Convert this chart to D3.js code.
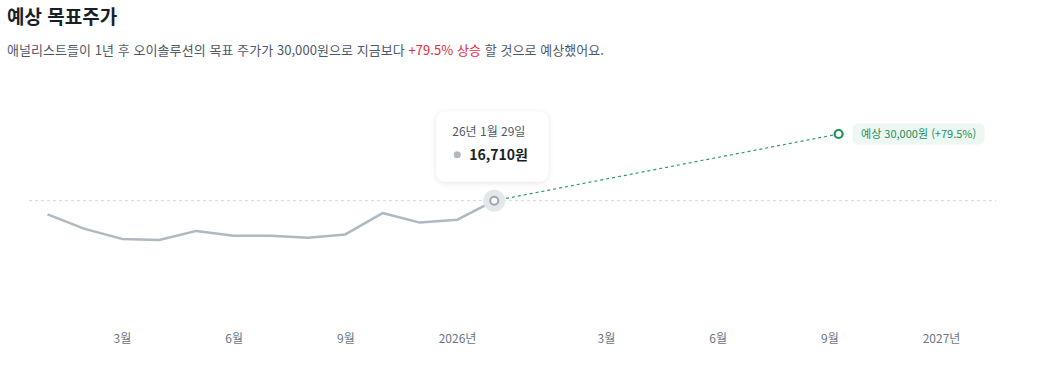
<!DOCTYPE html>
<html lang="ko">
<head>
<meta charset="utf-8">
<script src="https://cdn.jsdelivr.net/npm/d3@7"></script>
<style>
  html, body { margin: 0; padding: 0; background: #fff; }
  body { font-family: "Noto Sans CJK KR", "Noto Sans", sans-serif; }
  svg text { font-family: "Noto Sans CJK KR", "Noto Sans", sans-serif; }
</style>
</head>
<body>
<svg id="chart" width="1037" height="378"></svg>
<script>
// monthly closes, 25년 1월 29일 .. 26년 1월 29일 (slot = month index from Jan 2025)
const dates = ['25년 1월 29일', '25년 2월 28일', '25년 3월 28일', '25년 4월 29일', '25년 5월 29일',
  '25년 6월 27일', '25년 7월 29일', '25년 8월 29일', '25년 9월 29일', '25년 10월 29일',
  '25년 11월 28일', '25년 12월 29일', '26년 1월 29일'];
const slots = [0, 1, 2, 3, 4, 5, 6, 7, 8, 9, 10, 11, 12];
const prices = [14000, 11100, 9100, 8900, 10700, 9750, 9750, 9350, 10000, 14250, 12350, 12900, 16710];

const targetSlot = 21.25;
const targetPrice = 30000;
const upside = '+79.5%';

const tickSlots = [2, 5, 8, 11, 15, 18, 21, 24];
const tickLabels = ['3월', '6월', '9월', '2026년', '3월', '6월', '9월', '2027년'];

const svg = d3.select('#chart');

// heading
svg.append('text')
  .attr('x', 7).attr('y', 24)
  .attr('font-size', 19).attr('font-weight', 700)
  .attr('fill', '#191f28')
  .text('예상 목표주가');

const sub = svg.append('text')
  .attr('x', 7).attr('y', 55)
  .attr('font-size', 13)
  .attr('letter-spacing', 0.06)
  .attr('fill', '#4e5968');
sub.append('tspan').text('애널리스트들이 1년 후 오이솔루션의 목표 주가가 30,000원으로 지금보다 ');
sub.append('tspan').attr('fill', '#e42939').text(upside + ' 상승');
sub.append('tspan').text(' 할 것으로 예상했어요.');

const x = d3.scaleLinear().domain([0, 24]).range([47.5, 941]);
const y = d3.scaleLinear().domain([0, 30000]).range([284.6, 134]);

const last = prices.length - 1;
const lastX = x(slots[last]);
const lastY = y(prices[last]);

// current price reference line
svg.append('line')
  .attr('x1', 29).attr('x2', 996)
  .attr('y1', lastY).attr('y2', lastY)
  .attr('stroke', '#d1d6db')
  .attr('stroke-width', 1)
  .attr('stroke-dasharray', '3,3');

// x axis labels
const axis = d3.axisBottom(x)
  .tickValues(tickSlots)
  .tickFormat((d, i) => tickLabels[i])
  .tickSize(0)
  .tickPadding(0);
const gx = svg.append('g')
  .attr('transform', 'translate(0,336)')
  .call(axis);
gx.select('.domain').remove();
gx.selectAll('text')
  .attr('font-size', 12)
  .attr('fill', '#6b7684')
  .attr('dy', '0.6em');

// price line
const line = d3.line()
  .x((d, i) => x(slots[i]))
  .y(d => y(d));
svg.append('path')
  .datum(prices)
  .attr('fill', 'none')
  .attr('stroke', '#b0b8c1')
  .attr('stroke-width', 2.5)
  .attr('stroke-linejoin', 'round')
  .attr('d', line);

// projection line
svg.append('line')
  .attr('x1', lastX).attr('y1', lastY)
  .attr('x2', x(targetSlot)).attr('y2', y(targetPrice))
  .attr('stroke', '#2a9d6a')
  .attr('stroke-width', 1.2)
  .attr('stroke-dasharray', '3,3');

// current point
svg.append('circle')
  .attr('cx', lastX).attr('cy', lastY).attr('r', 11)
  .attr('fill', '#e5e8eb');
svg.append('circle')
  .attr('cx', lastX).attr('cy', lastY).attr('r', 4)
  .attr('fill', '#fff')
  .attr('stroke', '#9ea6b0')
  .attr('stroke-width', 2);

// target point
svg.append('circle')
  .attr('cx', x(targetSlot)).attr('cy', y(targetPrice)).attr('r', 4)
  .attr('fill', '#fff')
  .attr('stroke', '#1c8f5a')
  .attr('stroke-width', 2.2);

// target label
const tg = svg.append('g')
  .attr('transform', `translate(${x(targetSlot) + 14},${y(targetPrice)})`);
tg.append('rect')
  .attr('x', 0).attr('y', -10.5)
  .attr('width', 132).attr('height', 21)
  .attr('rx', 5)
  .attr('fill', '#edf8f2');
tg.append('text')
  .attr('x', 66).attr('y', 0)
  .attr('dy', '0.35em')
  .attr('text-anchor', 'middle')
  .attr('font-size', 11)
  .attr('fill', '#1c8f5a')
  .text(`예상 ${d3.format(',')(targetPrice)}원 (${upside})`);

// tooltip
const defs = svg.append('defs');
const f = defs.append('filter').attr('id', 'shadow')
  .attr('x', '-20%').attr('y', '-20%').attr('width', '140%').attr('height', '150%');
f.append('feDropShadow')
  .attr('dx', 0).attr('dy', 1).attr('stdDeviation', 3)
  .attr('flood-color', '#000').attr('flood-opacity', 0.1);

const tip = svg.append('g')
  .attr('transform', `translate(${lastX - 58},${lastY - 89})`);
tip.append('rect')
  .attr('width', 112).attr('height', 70)
  .attr('rx', 9)
  .attr('fill', '#fff')
  .attr('filter', 'url(#shadow)');
tip.append('text')
  .attr('x', 16).attr('y', 24)
  .attr('font-size', 12)
  .attr('fill', '#4e5968')
  .text(dates[last]);
tip.append('circle')
  .attr('cx', 21).attr('cy', 43).attr('r', 3.5)
  .attr('fill', '#b0b8c1');
tip.append('text')
  .attr('x', 33).attr('y', 48)
  .attr('font-size', 14)
  .attr('font-weight', 700)
  .attr('fill', '#191f28')
  .text(d3.format(',')(prices[last]) + '원');
</script>
</body>
</html>
